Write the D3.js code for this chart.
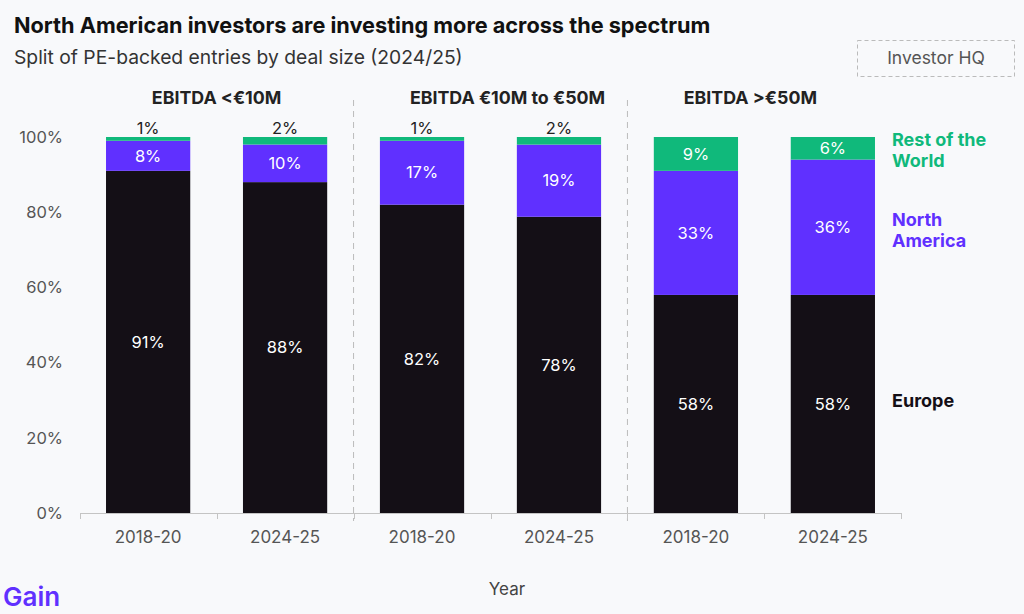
<!DOCTYPE html>
<html>
<head>
<meta charset="utf-8">
<script src="https://cdn.jsdelivr.net/npm/d3@7"></script>
<style>
  body { margin: 0; background: #f8f9fb; font-family: Inter, "Noto Sans", sans-serif; }
  svg text { font-family: Inter, "Noto Sans", sans-serif; }
</style>
</head>
<body>
<div id="chart"></div>
<script>
'use strict';
// data
const panels = ['EBITDA <€10M', 'EBITDA €10M to €50M', 'EBITDA >€50M'];
const years = ['2018-20', '2024-25'];
const europe = [91, 88, 82, 78, 58, 58];
const northAmerica = [8, 10, 17, 19, 33, 36];
const restOfWorld = [1, 2, 1, 2, 9, 6];
const seriesNames = ['Europe', 'North America', 'Rest of the World'];
const legendLines = [['Europe'], ['North', 'America'], ['Rest of the', 'World']];
const yTicks = [0, 0.2, 0.4, 0.6, 0.8, 1];
const colors = ['#140f16', '#6030ff', '#10b97b'];

const width = 1024, height = 614;
const margin = {top: 137, right: 123, bottom: 101, left: 80};

const rows = [];
panels.forEach((p, i) => {
    years.forEach((yr, j) => {
        const k = i * 2 + j;
        rows.push({key: p + '|' + yr, panel: p, year: yr,
            'Europe': europe[k], 'North America': northAmerica[k], 'Rest of the World': restOfWorld[k]});
    });
});

const svg = d3.select('#chart').append('svg')
    .attr('width', width)
    .attr('height', height);

// set the ranges
const x = d3.scaleBand()
    .domain(rows.map(d => d.key))
    .range([margin.left, width - margin.right])
    .paddingInner(0.385)
    .paddingOuter(0.19);
const y = d3.scaleLinear()
    .domain([0, 1])
    .range([height - margin.bottom, margin.top]);

const stack = d3.stack()
    .keys(seriesNames)
    .offset(d3.stackOffsetExpand);
const stacked = stack(rows);

// title + subtitle
svg.append('text')
    .attr('x', 14).attr('y', 33)
    .style('font-size', '21.7px').style('font-weight', 700)
    .style('fill', '#111')
    .text('North American investors are investing more across the spectrum');
svg.append('text')
    .attr('x', 14).attr('y', 64)
    .style('font-size', '19.3px')
    .style('fill', '#333')
    .text('Split of PE-backed entries by deal size (2024/25)');

// Investor HQ box
svg.append('rect')
    .attr('x', 857.5).attr('y', 40.5).attr('width', 157).attr('height', 36)
    .attr('fill', 'none').attr('stroke', '#bbb').attr('stroke-dasharray', '4,3');
svg.append('text')
    .attr('x', 936).attr('y', 64).attr('text-anchor', 'middle')
    .style('font-size', '17.5px').style('fill', '#555')
    .text('Investor HQ');

// y axis labels
svg.append('g')
    .selectAll('text')
    .data(yTicks)
    .enter().append('text')
    .attr('x', 63)
    .attr('y', d => y(d))
    .attr('dy', '0.35em')
    .attr('text-anchor', 'end')
    .style('font-size', '16.5px').style('fill', '#555')
    .text(d => d3.format('.0%')(d));

// panel separators (dashed)
const step = x.step();
[2, 4].forEach(k => {
    const sx = x(rows[k].key) - step * x.paddingInner() / 2;
    svg.append('line')
        .attr('x1', sx).attr('x2', sx)
        .attr('y1', 100).attr('y2', height - margin.bottom + 8)
        .attr('stroke', '#bbb').attr('stroke-dasharray', '6,5');
});

// panel headers
const headerShift = [0, 17, -14];
panels.forEach((p, i) => {
    const a = x(rows[i * 2].key), b = x(rows[i * 2 + 1].key) + x.bandwidth();
    svg.append('text')
        .attr('x', (a + b) / 2 + headerShift[i])
        .attr('y', 104)
        .attr('text-anchor', 'middle')
        .style('font-size', '17.8px').style('font-weight', 700).style('fill', '#222')
        .text(p);
});

// bars
const layer = svg.selectAll('.layer')
    .data(stacked)
    .enter().append('g')
    .attr('class', 'layer')
    .attr('fill', (d, i) => colors[i]);

layer.selectAll('rect')
    .data(d => d)
    .enter().append('rect')
    .attr('x', d => x(d.data.key))
    .attr('width', x.bandwidth())
    .attr('y', d => y(d[1]))
    .attr('height', d => y(d[0]) - y(d[1]));

// value labels
stacked.forEach((s, i) => {
    s.forEach(d => {
        const v = d.data[s.key];
        const small = v < 5;
        svg.append('text')
            .attr('x', x(d.data.key) + x.bandwidth() / 2)
            .attr('y', small ? y(d[1]) - 3 : (y(d[0]) + y(d[1])) / 2)
            .attr('dy', small ? 0 : '0.35em')
            .attr('text-anchor', 'middle')
            .style('font-size', '16.5px')
            .style('fill', small ? '#222' : '#fff')
            .text(v + '%');
    });
});

// x axis
const base = height - margin.bottom;
const edges = [margin.left];
rows.forEach(d => edges.push(x(d.key) + x.bandwidth() + step * x.paddingInner() / 2));
edges[edges.length - 1] = width - margin.right;
const axis = svg.append('g').attr('stroke', '#c4c4c4');
axis.append('line')
    .attr('x1', margin.left).attr('x2', width - margin.right)
    .attr('y1', base + 0.5).attr('y2', base + 0.5);
axis.selectAll('.tick')
    .data(edges)
    .enter().append('line')
    .attr('x1', d => Math.round(d) + 0.5).attr('x2', d => Math.round(d) + 0.5)
    .attr('y1', base).attr('y2', base + 6);

svg.append('g')
    .selectAll('text')
    .data(rows)
    .enter().append('text')
    .attr('x', d => x(d.key) + x.bandwidth() / 2)
    .attr('y', base + 30)
    .attr('text-anchor', 'middle')
    .style('font-size', '17px').style('fill', '#555')
    .text(d => d.year);

svg.append('text')
    .attr('x', 507).attr('y', 595)
    .attr('text-anchor', 'middle')
    .style('font-size', '17px').style('fill', '#444')
    .text('Year');

// legend at right, aligned to last bar segments
const last = stacked.map(s => s[s.length - 1]);
const legendShift = [-3, 3, 2];
last.forEach((d, i) => {
    const lines = legendLines[i];
    const cy = (y(d[0]) + y(d[1])) / 2 + legendShift[i];
    const lh = 21.5;
    const t = svg.append('text')
        .attr('x', 892)
        .style('font-size', '18px').style('font-weight', 700)
        .style('fill', colors[i]);
    lines.forEach((ln, j) => {
        t.append('tspan')
            .attr('x', 892)
            .attr('y', cy + (j - (lines.length - 1) / 2) * lh)
            .attr('dy', '0.35em')
            .text(ln);
    });
});

// logo
svg.append('text')
    .attr('x', 3).attr('y', 606)
    .style('font-size', '26px').style('font-weight', 600)
    .style('fill', '#6030ff')
    .text('Gain');
</script>
</body>
</html>
